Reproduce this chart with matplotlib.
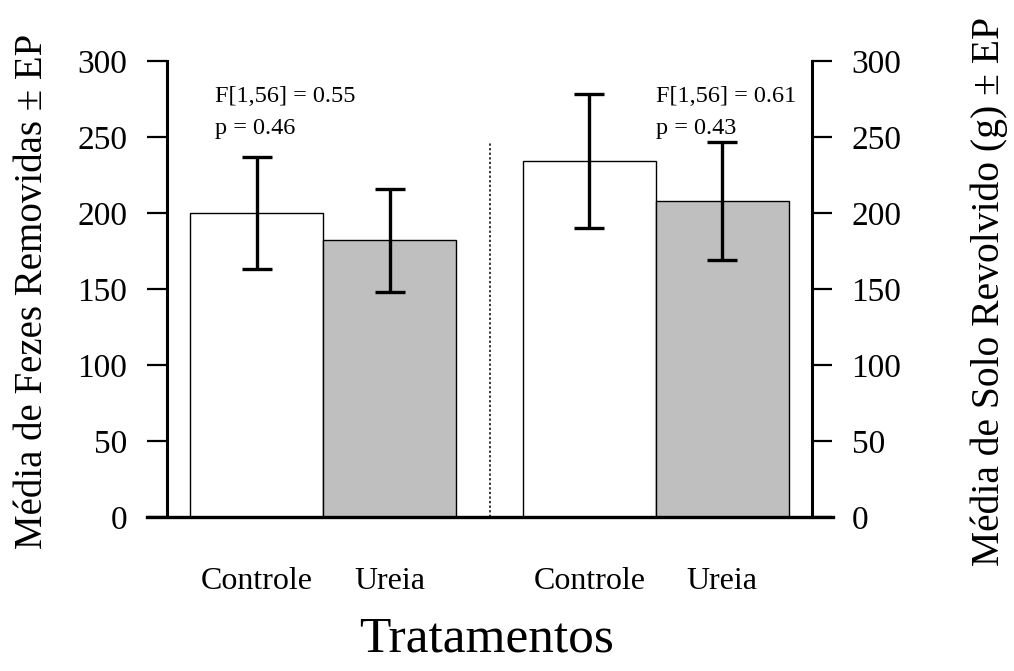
import matplotlib
matplotlib.use("Agg")
import matplotlib.pyplot as plt
from matplotlib.lines import Line2D

plt.rcParams['font.family'] = ['Liberation Serif', 'DejaVu Serif']

categories = ["Controle", "Ureia", "Controle", "Ureia"]
fezes_means = [200, 182]
fezes_err = [37, 34]
solo_means = [234, 208]
solo_err = [44, 39]
yticks = [0, 50, 100, 150, 200, 250, 300]
stats_fezes = "F[1,56] = 0.55\np = 0.46"
stats_solo = "F[1,56] = 0.61\np = 0.43"

positions = [1.0, 2.0, 3.5, 4.5]
means = fezes_means + solo_means
errs = fezes_err + solo_err
colors = ["white", "#bfbfbf", "white", "#bfbfbf"]

fig = plt.figure(figsize=(10.14, 6.71), dpi=100)
ax = fig.add_axes([0.1647, 0.2295, 0.6361, 0.6796])

ax.bar(positions, means, width=1.0, color=colors, edgecolor="black", linewidth=1.0, zorder=2)
ax.errorbar(positions, means, yerr=errs, fmt="none", ecolor="black",
            elinewidth=2.4, capsize=11, capthick=2.4, zorder=3)

ax.set_xlim(0.325, 5.175)
ax.set_ylim(0, 300)
ax.set_yticks(yticks)
ax.set_yticklabels([str(v) for v in yticks])
ax.set_xticks(positions)
ax.set_xticklabels(categories)

for s in ["top", "bottom"]:
    ax.spines[s].set_visible(False)
for s in ["left", "right"]:
    ax.spines[s].set_linewidth(2.2)

ax.tick_params(axis="y", which="both", left=True, right=True, labelleft=True, labelright=True,
               direction="out", length=14.5, width=1.6, labelsize=24, pad=14)
ax.tick_params(axis="x", length=0, labelsize=23, pad=36)

# bottom baseline extending beyond the spines
ax.add_line(Line2D([-20 / 645, 1 + 21 / 645], [0, 0], transform=ax.transAxes,
                   color="black", linewidth=2.4, clip_on=False, zorder=4))

# dotted separator
sep_x = (positions[1] + positions[2]) / 2
ax.plot([sep_x, sep_x], [0, 247], color="black", linestyle=(0, (1.5, 1.5)), linewidth=1.1, zorder=1)

ax.text(0.686, 266, stats_fezes, fontsize=17.5, ha="left", va="center", linespacing=1.65)
ax.text(4.0, 266, stats_solo, fontsize=17.5, ha="left", va="center", linespacing=1.65)

fig.text(0.0325, 0.565, "Média de Fezes Removidas ± EP", rotation=90, fontsize=28,
         ha="center", va="center")
fig.text(0.976, 0.565, "Média de Solo Revolvido (g) ± EP", rotation=90, fontsize=28.5,
         ha="center", va="center")
fig.text(0.48, 0.012, "Tratamentos", fontsize=37, ha="center", va="bottom")

fig.savefig("out.png", dpi=100)
